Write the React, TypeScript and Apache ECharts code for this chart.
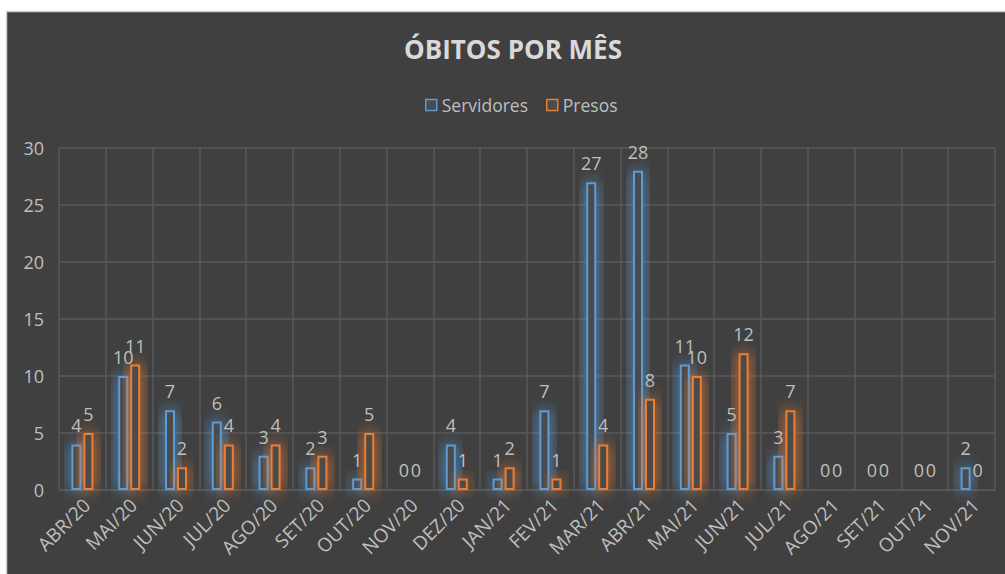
import React, { useEffect, useRef } from "react";
import * as echarts from "echarts";

const categories = ["ABR/20","MAI/20","JUN/20","JUL/20","AGO/20","SET/20","OUT/20","NOV/20","DEZ/20","JAN/21","FEV/21","MAR/21","ABR/21","MAI/21","JUN/21","JUL/21","AGO/21","SET/21","OUT/21","NOV/21"];
const servidores = [4,10,7,6,3,2,1,0,4,1,7,27,28,11,5,3,0,0,0,2];
const presos = [5,11,2,4,4,3,5,0,1,2,1,4,8,10,12,7,0,0,0,0];
const yTicks = { min: 0, max: 30, interval: 5 };

const BLUE = "#5b9bd5";
const ORANGE = "#ed7d31";
const BG = "#404040";
const TXT = "#bfbfbf";
const FONT = "'Open Sans', 'Noto Sans', sans-serif";

export default function App() {
  const ref = useRef<HTMLDivElement>(null);
  useEffect(() => {
    const chart = echarts.init(ref.current!, null, { renderer: "svg" });
    const mkSeries = (name: string, data: number[], color: string) => ({
      name,
      type: "bar",
      data,
      barWidth: 10,
      barGap: "20%",
      itemStyle: {
        color: "#4b4b4b",
        borderColor: color,
        borderWidth: 2,
        shadowColor: color,
        shadowBlur: 16,
      },
      label: {
        show: true,
        position: "top",
        distance: 10,
        color: TXT,
        fontSize: 18,
        fontFamily: FONT,
      },
    });
    chart.setOption({
      animation: false,
      backgroundColor: "#ffffff",
      graphic: [
        {
          type: "rect",
          shape: { x: 6.5, y: 11.5, width: 1005, height: 570 },
          style: { fill: BG, stroke: "#d0d0d0", lineWidth: 1.5 },
          z: -10,
          silent: true,
        },
      ],
      title: {
        text: "ÓBITOS POR MÊS",
        left: 508,
        textAlign: "center",
        top: 31,
        textStyle: { color: "#d9d9d9", fontSize: 26, fontWeight: "bold", fontFamily: FONT },
      },
      legend: {
        top: 91,
        left: 420,
        itemWidth: 11,
        itemHeight: 11,
        itemGap: 18,
        icon: "rect",
        textStyle: { color: TXT, fontSize: 17.5, fontFamily: FONT },
        itemStyle: { shadowBlur: 0, borderWidth: 1.5 },
        data: ["Servidores", "Presos"],
      },
      grid: { left: 59, right: 10, top: 148, bottom: 84, containLabel: false },
      xAxis: {
        type: "category",
        data: categories,
        axisLine: { show: true, lineStyle: { color: "#595959" } },
        axisTick: { show: false },
        splitLine: { show: true, lineStyle: { color: "#595959", width: 1.5 } },
        axisLabel: {
          rotate: 45,
          color: TXT,
          fontSize: 19,
          fontFamily: FONT,
          margin: 16,
          padding: [0, -6, 0, 0],
          interval: 0,
        },
      },
      yAxis: {
        type: "value",
        min: yTicks.min,
        max: yTicks.max,
        interval: yTicks.interval,
        axisLine: { show: false },
        axisTick: { show: false },
        splitLine: { lineStyle: { color: "#595959", width: 1.5 } },
        axisLabel: { color: TXT, fontSize: 18, fontFamily: FONT, margin: 15 },
      },
      series: [mkSeries("Servidores", servidores, BLUE), mkSeries("Presos", presos, ORANGE)],
    });
    return () => chart.dispose();
  }, []);
  return (
    <div
      ref={ref}
      style={{ position: "absolute", left: 0, top: 0, width: 1005, height: 574 }}
    />
  );
}
